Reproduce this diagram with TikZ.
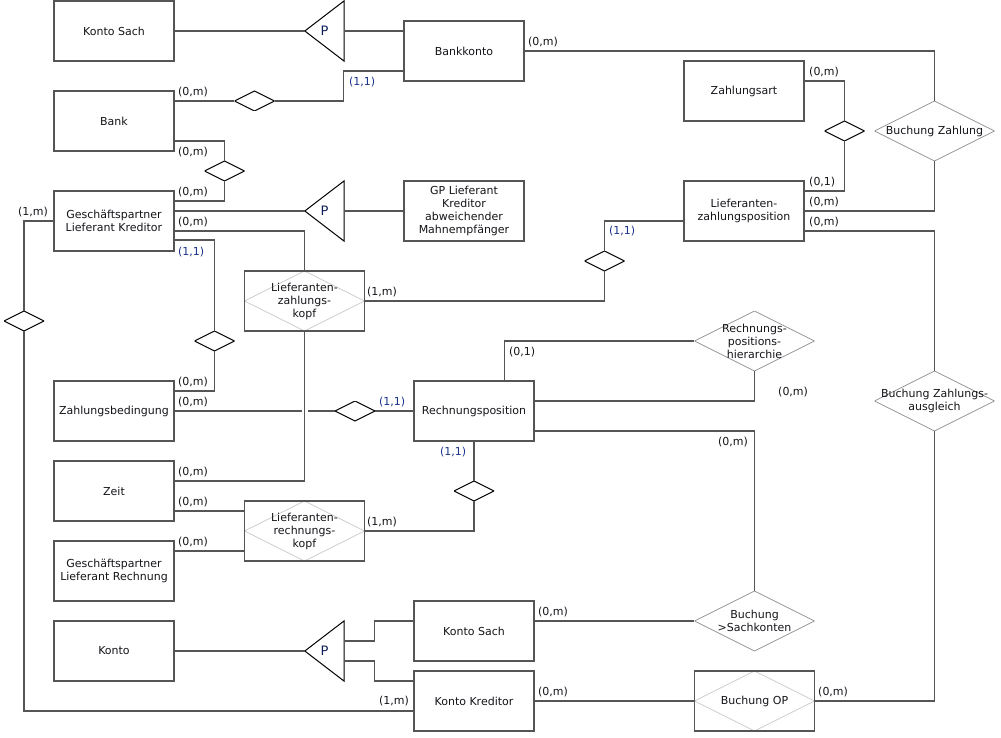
\documentclass[tikz,border=0pt]{standalone}
\usepackage{fontspec}
\setmainfont{DejaVu Sans}
\usetikzlibrary{positioning}
\usetikzlibrary{calc}

\definecolor{linegray}{RGB}{85,85,85}
\definecolor{diagray}{RGB}{150,150,150}
\definecolor{innergray}{RGB}{205,205,205}
\definecolor{textblack}{RGB}{20,20,25}
\definecolor{cardblue}{RGB}{25,50,140}
\definecolor{pblue}{RGB}{15,30,90}

\begin{document}
\begin{tikzpicture}[x=1pt, y=-1pt,
  every node/.style={font=\fontsize{11}{13}\selectfont, text=textblack},
  entity/.style={draw=linegray, line width=1.2pt, minimum width=120pt, minimum height=60pt, align=center, inner sep=0pt},
  weak/.style={entity, path picture={\draw[innergray, line width=0.8pt] (path picture bounding box.north) -- (path picture bounding box.east) -- (path picture bounding box.south) -- (path picture bounding box.west) -- cycle;}},
  reldia/.style={rectangle, minimum width=120pt, minimum height=60pt, align=center, inner sep=0pt, path picture={\draw[diagray, line width=0.8pt] (path picture bounding box.north) -- (path picture bounding box.east) -- (path picture bounding box.south) -- (path picture bounding box.west) -- cycle;}},
  smalldia/.style={rectangle, minimum width=40pt, minimum height=20pt, inner sep=0pt, path picture={\draw[black, line width=1pt] (path picture bounding box.north) -- (path picture bounding box.east) -- (path picture bounding box.south) -- (path picture bounding box.west) -- cycle;}},
  isa/.style={rectangle, minimum width=39pt, minimum height=60pt, inner sep=0pt, font=\fontsize{13}{13}\selectfont, text=pblue},
  conn/.style={draw=linegray, line width=1.2pt},
  card/.style={anchor=west, inner sep=0pt},
  cardb/.style={card, text=cardblue}]

\useasboundingbox (0,0) rectangle (1001,738);

% entities
\node[entity] (ks1) at (114,31) {Konto Sach};
\node[entity] (bk) at (464,51) {Bankkonto};
\node[entity] (bank) at (114,121) {Bank};
\node[entity] (gpk) at (114,221) {Geschäftspartner\\Lieferant Kreditor};
\node[entity] (gpm) at (464,211) {GP Lieferant\\Kreditor\\abweichender\\Mahnempfänger};
\node[entity] (za) at (744,91) {Zahlungsart};
\node[entity] (lzp) at (744,211) {Lieferanten-\\zahlungsposition};
\node[weak] (lzk) at (304.5,301) {Lieferanten-\\zahlungs-\\kopf};
\node[entity] (zb) at (114,411) {Zahlungsbedingung};
\node[entity] (rp) at (474,411) {Rechnungsposition};
\node[entity] (zeit) at (114,491) {Zeit};
\node[weak] (lrk) at (304.5,531) {Lieferanten-\\rechnungs-\\kopf};
\node[entity] (gpr) at (114,571) {Geschäftspartner\\Lieferant Rechnung};
\node[entity] (konto) at (114,651) {Konto};
\node[entity] (ks2) at (474,631) {Konto Sach};
\node[entity] (kk) at (474,701) {Konto Kreditor};
\node[weak] (bop) at (754.5,701) {Buchung OP};

% relationships
\node[reldia] (bz) at (934.5,131) {Buchung Zahlung};
\node[reldia] (rph) at (754.5,341) {Rechnungs-\\positions-\\hierarchie};
\node[reldia] (bza) at (934.5,401) {Buchung Zahlungs-\\ausgleich};
\node[reldia] (bsk) at (754.5,621) {Buchung\\>Sachkonten};

\node[smalldia] (d1) at (254.5,101) {};
\node[smalldia] (d2) at (224.5,171) {};
\node[smalldia] (d3) at (214.5,341) {};
\node[smalldia] (d4) at (355,411) {};
\node[smalldia] (d5) at (604.5,261) {};
\node[smalldia] (d6) at (844.5,131) {};
\node[smalldia] (d7) at (474,491) {};
\node[smalldia] (d8) at (24,321) {};

% generalisations
\node[isa] (p1) at (324.5,31) {P};
\node[isa] (p2) at (324.5,211) {P};
\node[isa] (p3) at (324.5,651) {P};
\foreach \n in {p1,p2,p3}
  \draw[black, line width=1pt] (\n.west) -- (\n.north east) -- (\n.south east) -- cycle;

% connectors
\draw[conn] (ks1.east) -- (p1.west);
\draw[conn] (p1.east) -- (p1.east -| bk.west);
\draw[conn] (d1.west) -- (d1.west -| bank.east);
\draw[conn] (d1.east) -| ($(bk.west)+(-60,20)$) -- ($(bk.west)+(0,20)$);
\draw[conn] ($(bank.east)+(0,20)$) -| (d2.north);
\draw[conn] (d2.south) |- ($(gpk.east)+(0,-20)$);
\draw[conn] (p2.west) -- (p2.west -| gpk.east);
\draw[conn] (p2.east) -- (gpm.west);
\draw[conn] ($(gpk.east)+(0,10)$) -| (lzk.north);
\draw[conn] ($(gpk.east)+(0,19)$) -| (d3.north);
\draw[conn] (d3.south) |- ($(zb.east)+(0,-20)$);
\draw[conn] (gpk.west) -| (d8.north);
\draw[conn] (d8.south) |- ($(kk.west)+(0,10)$);
\draw[conn] (zb.east) -- (d4.west);
\fill[white] ($(lzk.south |- zb.east)+(-3,-2)$) rectangle ++(6,4);
\draw[conn] (d4.east) -- (rp.west);
\draw[conn] (lzk.south) |- ($(zeit.east)+(0,-10)$);
\draw[conn] (lzk.east) -| (d5.south);
\draw[conn] (d5.north) |- ($(lzp.west)+(0,10)$);
\draw[conn] ($(za.east)+(0,-10)$) -| (d6.north);
\draw[conn] (d6.south) |- ($(lzp.east)+(0,-20)$);
\draw[conn] (bk.east) -| (bz.north);
\draw[conn] (bz.south) |- (lzp.east);
\draw[conn] ($(lzp.east)+(0,20)$) -| (bza.north);
\draw[conn] (bza.south) |- (bop.east);
\draw[conn] (rph.west) -| ($(rp.north)+(30.5,0)$);
\draw[conn] (rph.south) |- ($(rp.east)+(0,-10)$);
\draw[conn] ($(rp.east)+(0,20)$) -| (bsk.north);
\draw[conn] (rp.south) -- (d7.north);
\draw[conn] (d7.south) |- (lrk.east);
\draw[conn] ($(zeit.east)+(0,20)$) -- ($(lrk.west)+(0,-20)$);
\draw[conn] ($(gpr.east)+(0,-20)$) -- ($(lrk.west)+(0,20)$);
\draw[conn] (konto.east) -- (p3.west);
\draw[conn] ($(p3.east)+(0,-10)$) -- ++(30.5,0) |- ($(ks2.west)+(0,-10)$);
\draw[conn] ($(p3.east)+(0,10)$) -- ++(30.5,0) |- ($(kk.west)+(0,-20)$);
\draw[conn] ($(ks2.east)+(0,-10)$) -- (bsk.west);
\draw[conn] (kk.east) -- (bop.west);

% cardinalities
\node[card] at (178,92) {(0,m)};
\node[cardb] at (349,82) {(1,1)};
\node[card] at (178,152) {(0,m)};
\node[card] at (178,192) {(0,m)};
\node[card] at (528,42) {(0,m)};
\node[card] at (809,72) {(0,m)};
\node[card] at (809,182) {(0,1)};
\node[card] at (809,202) {(0,m)};
\node[card] at (809,222) {(0,m)};
\node[card] at (18,212) {(1,m)};
\node[card] at (178,222) {(0,m)};
\node[cardb] at (178,252) {(1,1)};
\node[cardb] at (609,231) {(1,1)};
\node[card] at (367,292) {(1,m)};
\node[card] at (178,382) {(0,m)};
\node[card] at (178,402) {(0,m)};
\node[cardb] at (379,402) {(1,1)};
\node[card] at (509,352) {(0,1)};
\node[card] at (778,392) {(0,m)};
\node[card] at (718,442) {(0,m)};
\node[cardb] at (440,452) {(1,1)};
\node[card] at (178,472) {(0,m)};
\node[card] at (178,502) {(0,m)};
\node[card] at (367,522) {(1,m)};
\node[card] at (178,542) {(0,m)};
\node[card] at (538,612) {(0,m)};
\node[card] at (379,701) {(1,m)};
\node[card] at (538,692) {(0,m)};
\node[card] at (818,692) {(0,m)};

\end{tikzpicture}
\end{document}
